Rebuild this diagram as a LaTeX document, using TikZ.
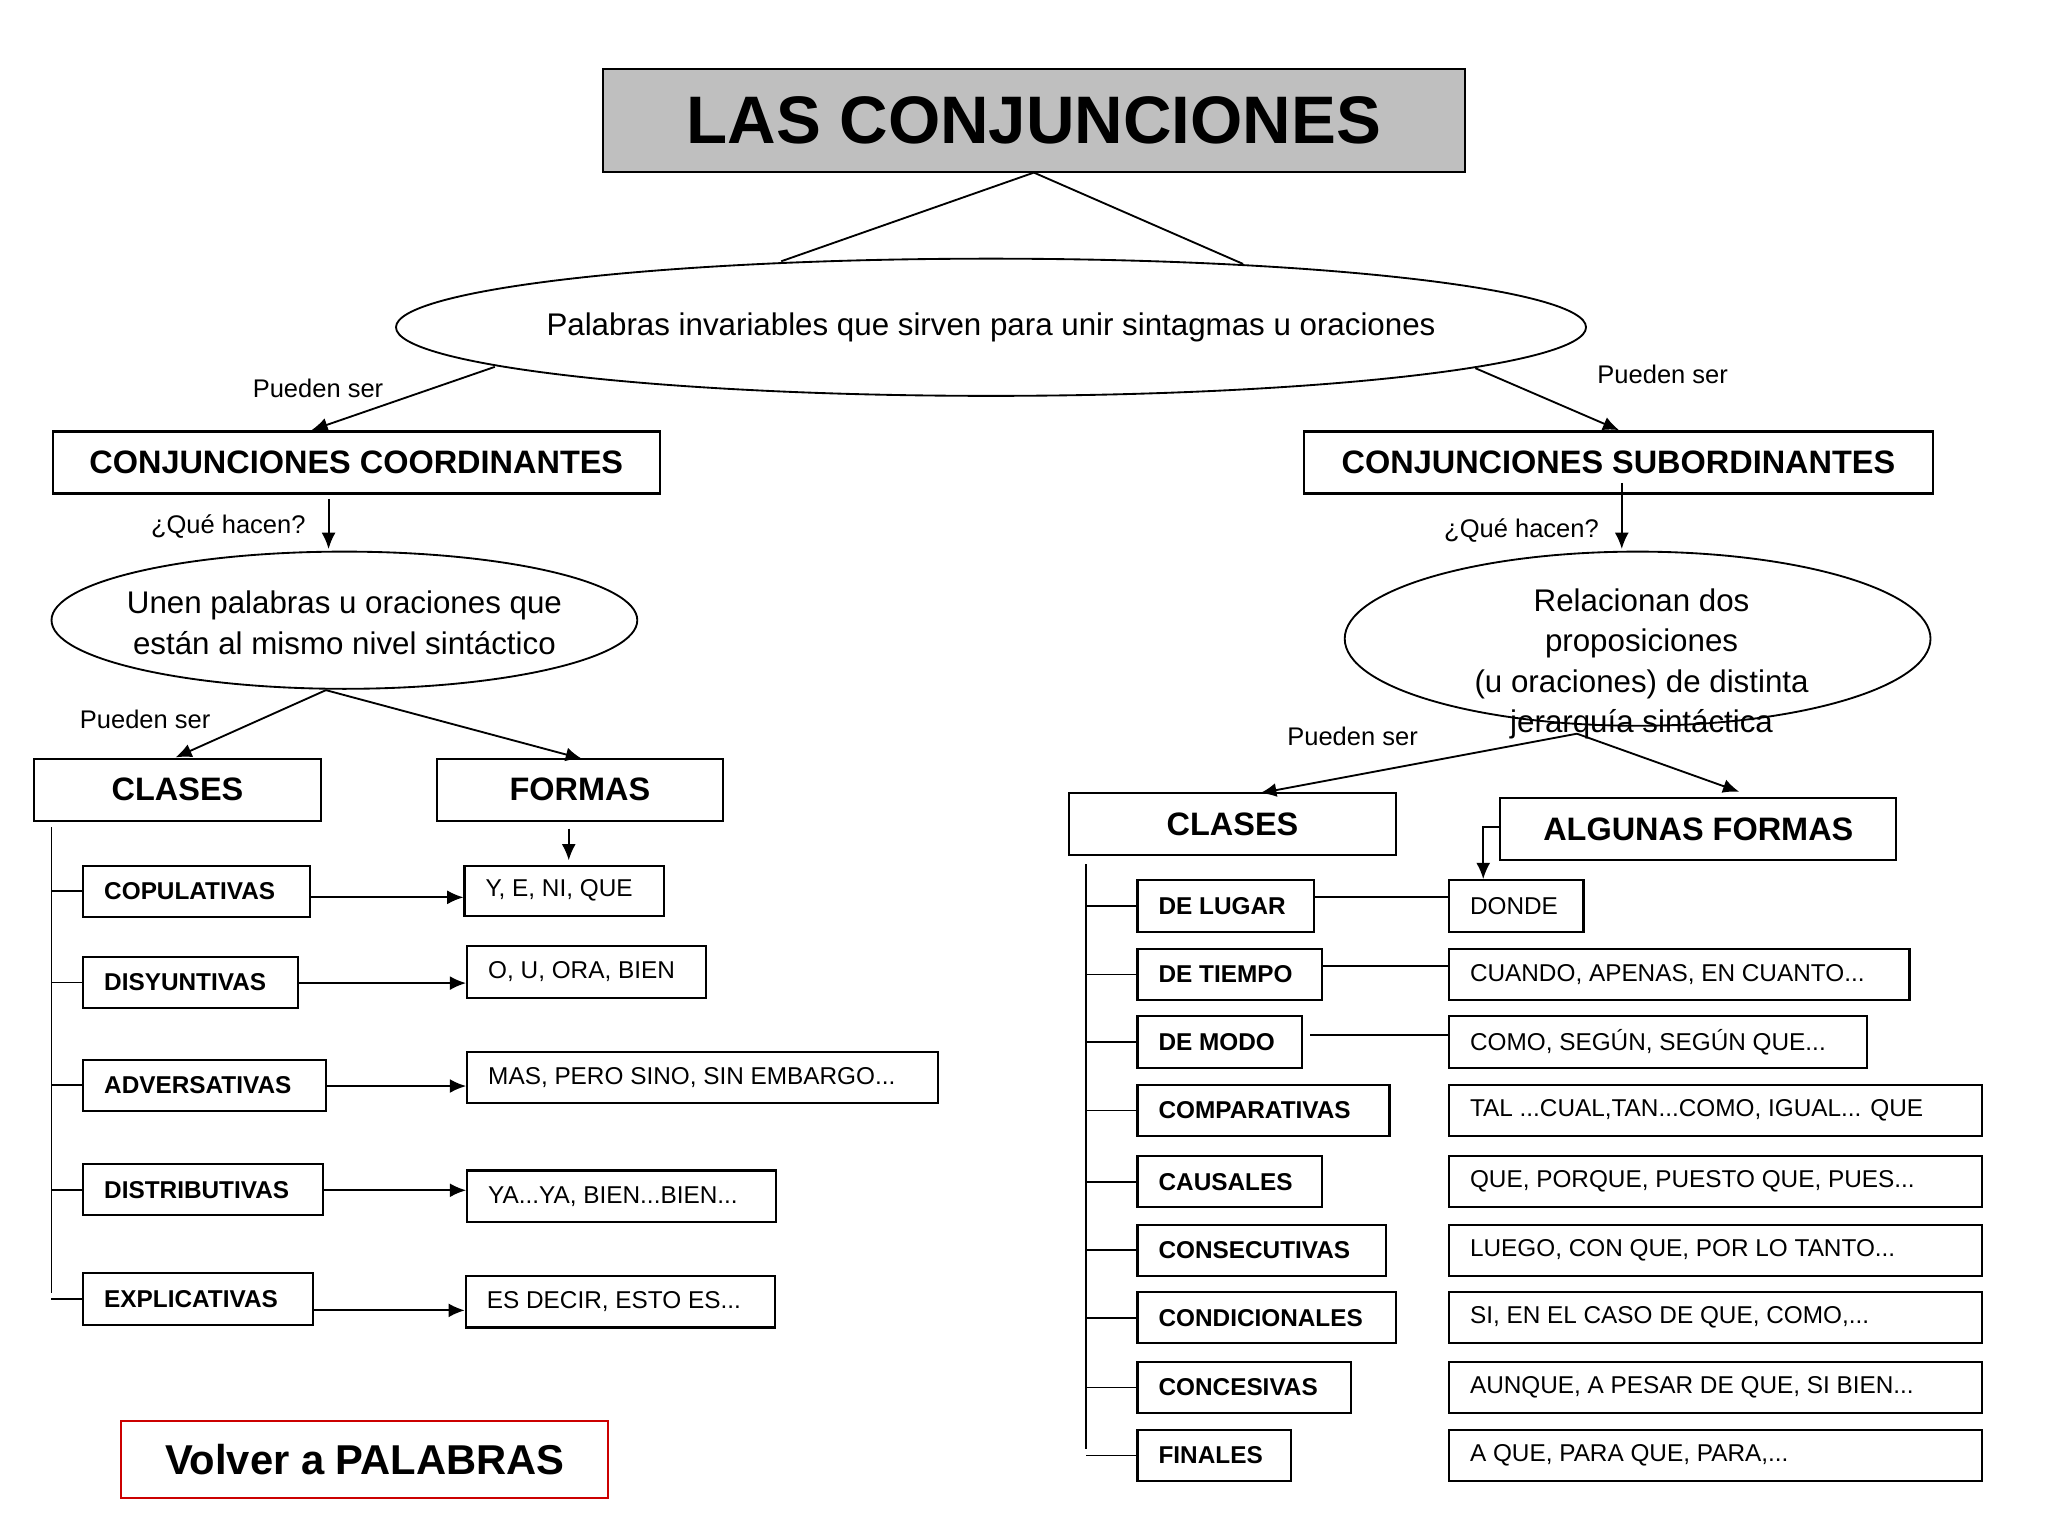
\documentclass[tikz,border=0pt]{standalone}
\usepackage{fontspec}
\setmainfont{Liberation Sans}
\usetikzlibrary{arrows.meta,shapes.geometric}
\newcommand\bxn[7]{\node[#6, minimum width={(#4-#2)*0.02cm}, minimum height={(#5-#3)*0.02cm}] (#1) at ({(#2+#4)/2},{(#3+#5)/2}) {#7};}
\newcommand\lbx[7]{\pgfmathsetlengthmacro\bw{(#4-#2)*0.02cm}\node[#6, minimum width=\bw, minimum height={(#5-#3)*0.02cm}] (#1) at ({(#2+#4)/2},{(#3+#5)/2}) {\makebox[\bw][l]{\hspace{0.32cm}#7}};}
\tikzset{
 bb/.style={draw, line width=0.9pt, inner sep=0pt, font=\fontsize{10.5}{13}\selectfont\bfseries},
 hb/.style={draw, line width=0.9pt, inner sep=0pt, font=\fontsize{14}{16}\selectfont\bfseries},
 fb/.style={draw, line width=0.9pt, inner sep=0pt, font=\fontsize{10.5}{13}\selectfont},
 lab/.style={font=\fontsize{11}{13}\selectfont},
 etx/.style={align=center, font=\fontsize{13.5}{17.5}\selectfont},
 ar/.style={-{Latex[length=7pt,width=6pt]}, line width=0.8pt},
 ln/.style={line width=0.8pt}
}
\begin{document}
\begin{tikzpicture}[x=0.02cm,y=-0.02cm]
\useasboundingbox (0,0) rectangle (1552,1164);
\fill[white] (0,0) rectangle (1552,1164);
\bxn{title}{457}{52}{1110}{130}{draw, fill=black!25, line width=0.9pt, inner sep=0pt, font=\fontsize{29}{34}\selectfont\bfseries}{LAS CONJUNCIONES}
\draw[ln] (751,248) ellipse [x radius=9.02cm, y radius=1.04cm];
\node[etx] (def) at (751,248) {Palabras invariables que sirven para unir sintagmas u oraciones};
\coordinate (t1) at (592,198); \coordinate (t2) at (942,200);
\draw[ln] (t1) -- (title.south) -- (t2);
\bxn{coord}{40}{327}{500}{374}{hb}{CONJUNCIONES COORDINANTES}
\bxn{sub}{988}{327}{1465}{374}{hb}{CONJUNCIONES SUBORDINANTES}
\draw[ar] (375,278) -- (236,326);
\draw[ar] (1118,279) -- (1227,326);
\node[lab] at (241,294) {Pueden ser};
\node[lab] at (1260,284) {Pueden ser};
\draw[ln] (261,470) ellipse [x radius=4.44cm, y radius=1.04cm];
\node[etx] (e1) at (261,472) {Unen palabras u oraciones que\\están al mismo nivel sintáctico};
\draw[ln] (1241,484) ellipse [x radius=4.44cm, y radius=1.32cm];
\node[etx] (e2) at (1244,503) {Relacionan dos\\proposiciones\\(u oraciones) de distinta\\jerarquía sintáctica};
\draw[ar] (249,378) -- (249,416);
\draw[ar] (1229,366) -- (1229,416);
\node[lab] at (173,399) {¿Qué hacen?};
\node[lab] at (1153,402) {¿Qué hacen?};
% left
\bxn{cl1}{26}{575}{243}{622}{hb}{CLASES}
\bxn{fo1}{331}{575}{548}{622}{hb}{FORMAS}
\draw[ar] (247,523) -- (133,574);
\draw[ar] (247,523) -- (441,575);
\node[lab] at (110,545) {Pueden ser};
\draw[ar] (431,628) -- (431,652);
\draw[ln] (39,627) -- (39,980);
\foreach \n/\a/\b/\c/\t/\x/\y/\z/\w/\u in {
 a/656/695/235/COPULATIVAS/352/656/503/694/{Y, E, NI, QUE},
 b/725/764/226/DISYUNTIVAS/354/717/535/756/{O, U, ORA, BIEN},
 c/803/842/247/ADVERSATIVAS/354/797/711/836/{MAS, PERO SINO, SIN EMBARGO...},
 d/882/921/245/DISTRIBUTIVAS/354/887/588/926/{YA...YA, BIEN...BIEN...},
 e/965/1004/237/EXPLICATIVAS/353/967/587/1006/{ES DECIR, ESTO ES...}}{
 \lbx{L\n}{63}{\a}{\c}{\b}{bb}{\t}
 \lbx{F\n}{\x}{\y}{\z}{\w}{fb}{\u}
 \draw[ln] (39,{(\a+\b)/2}) -- (L\n.west);
}
\draw[ar] (235,680) -- (Fa.west |- 0,680);
\draw[ar] (226,745) -- (Fb.west |- 0,745);
\draw[ar] (247,823) -- (Fc.west |- 0,823);
\draw[ar] (245,902) -- (Fd.west |- 0,902);
\draw[ar] (237,993) -- (Fe.west |- 0,993);
\bxn{volver}{92}{1077}{461}{1135}{draw=red!80!black, line width=0.9pt, inner sep=0pt, font=\fontsize{18}{20}\selectfont\bfseries}{Volver a PALABRAS}
% right
\bxn{cl2}{810}{601}{1058}{648}{hb}{CLASES}
\bxn{fo2}{1137}{605}{1437}{652}{hb}{ALGUNAS FORMAS}
\draw[ar] (1195,556) -- (955,601);
\draw[ar] (1195,556) -- (1318,600);
\node[lab] at (1025,558) {Pueden ser};
\draw[ln] (823,655) -- (823,1098);
\foreach \n/\a/\b/\c/\t/\z/\u in {
 a/667/706/996/DE LUGAR/1200/DONDE,
 b/719/758/1002/DE TIEMPO/1447/{CUANDO, APENAS, EN CUANTO...},
 c/770/809/987/DE MODO/1415/{COMO, SEGÚN, SEGÚN QUE...},
 d/822/861/1053/COMPARATIVAS/1502/{TAL ...CUAL,TAN...COMO, IGUAL... QUE},
 e/876/915/1002/CAUSALES/1502/{QUE, PORQUE, PUESTO QUE, PUES...},
 f/928/967/1050/CONSECUTIVAS/1502/{LUEGO, CON QUE, POR LO TANTO...},
 g/979/1018/1058/CONDICIONALES/1502/{SI, EN EL CASO DE QUE, COMO,...},
 h/1032/1071/1024/CONCESIVAS/1502/{AUNQUE, A PESAR DE QUE, SI BIEN...},
 i/1084/1122/978/FINALES/1502/{A QUE, PARA QUE, PARA,...}}{
 \lbx{R\n}{862}{\a}{\c}{\b}{bb}{\t}
 \lbx{G\n}{1098}{\a}{\z}{\b}{fb}{\u}
 \draw[ln] (823,{(\a+\b)/2}) -- (R\n.west);
}
\draw[ln] (Ra.east |- 0,680) -- (Ga.west |- 0,680);
\draw[ln] (Rb.east |- 0,732) -- (Gb.west |- 0,732);
\draw[ln] (993,784) -- (Gc.west |- 0,784);
\draw[ar] (fo2.west |- 0,627) -- (1124,627) -- (Ga.north -| 1124,0);
\end{tikzpicture}
\end{document}
